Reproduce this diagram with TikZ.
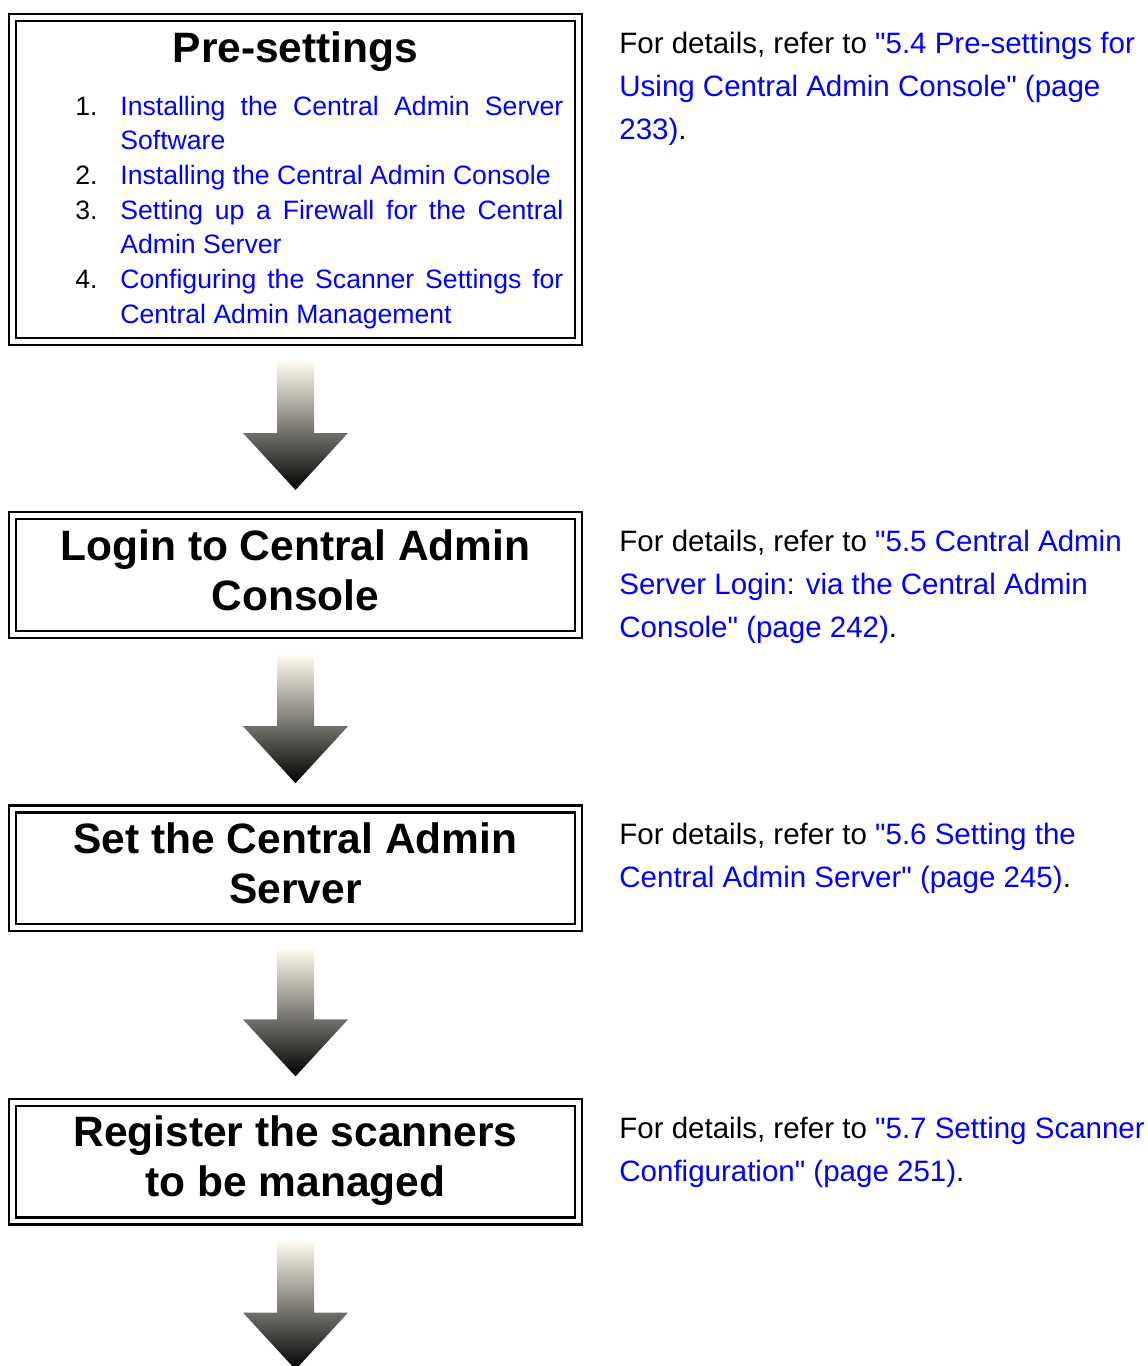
\documentclass[tikz,border=0pt]{standalone}
\usepackage{fontspec}
\setmainfont{Liberation Sans}
\usepackage{tikz}
\usetikzlibrary{positioning,calc}
\definecolor{linkblue}{RGB}{0,0,255}
\definecolor{arrowtop}{RGB}{255,251,238}
\tikzset{
  framebox/.style={draw=black,double=white,line width=1.1pt,double distance=2.4pt,
    outer sep=0pt,inner sep=0pt,minimum width=282.9pt,minimum height=59.4pt,align=center,
    font=\fontsize{21.25pt}{25pt}\selectfont\bfseries},
  titletext/.style={inner sep=0pt,anchor=base,font=\fontsize{21.25pt}{25pt}\selectfont\bfseries},
  notetext/.style={anchor=north west,inner sep=0pt,align=left,font=\fontsize{14.75pt}{21.5pt}\selectfont},
  steplist/.style={anchor=north west,inner sep=0pt,text width=244pt,align=justify,
    font=\fontsize{13.3pt}{17.33pt}\selectfont},
  flowarrow/.style={top color=arrowtop,bottom color=black,draw=none}
}
\newcommand{\lk}[1]{\textcolor{linkblue}{#1}}
\newcommand{\qt}{\textquotedbl}
\newcommand{\stepitem}[2]{\par\hangindent=22.5pt\hangafter=1\noindent\strut\makebox[22.5pt][l]{#1}\lk{#2}\par}

\begin{document}
\begin{tikzpicture}[x=0.5pt,y=0.5pt,node distance=87.2pt]
  \fill[white] (0,0) rectangle (1147,-1366);
  \path[use as bounding box] (0,0) rectangle (1147,-1366);

  %% Step boxes
  \node[framebox,minimum height=161.9pt] (b1) at (295.5,-179.5) {};
  \node[titletext] (t1) at ($(b1.north)+(0,-44.4)$) {Pre-settings};
  \node[steplist] (list1) at ($(b1.north west)+(62.4,-62.6)$) {%
    \tolerance=10000\hbadness=10000\parskip=0pt
    \stepitem{1.}{Installing the Central Admin Server\linebreak Software}
    \stepitem{2.}{Installing the Central Admin Console}
    \stepitem{3.}{Setting up a Firewall for the Central\linebreak Admin Server}
    \stepitem{4.}{Configuring the Scanner Settings for\linebreak Central Admin Management}};
  \node[framebox,below=of b1] (b2) {\strut Login to Central Admin\\Console\strut};
  \node[framebox,below=of b2] (b3) {\strut Set the Central Admin\\Server\strut};
  \node[framebox,below=of b3] (b4) {\strut Register the scanners\\to be managed\strut};

  %% Notes
  \node[notetext] (n1) at ($(b1.north east)+(40.6,-5.3)$)
    {\strut For details, refer to \lk{\qt5.4 Pre-settings for}\\\lk{Using Central Admin Console\qt\ (page}\\\lk{233)}.};
  \node[notetext] (n2) at ($(b2.north east)+(40.6,-5.3)$)
    {\strut For details, refer to \lk{\qt5.5 Central Admin}\\\lk{Server Login: via the Central Admin}\\\lk{Console\qt\ (page 242)}.};
  \node[notetext] (n3) at ($(b3.north east)+(40.6,-5.3)$)
    {\strut For details, refer to \lk{\qt5.6 Setting the}\\\lk{Central Admin Server\qt\ (page 245)}.};
  \node[notetext] (n4) at ($(b4.north east)+(40.6,-5.3)$)
    {\strut For details, refer to \lk{\qt5.7 Setting Scanner}\\\lk{Configuration\qt\ (page 251)}.};

  %% Block arrows
  \foreach \i in {1,...,4}
    \shade[flowarrow] ($(b\i.south)+(-18.5,-20.6)$) -- ++(0,-71) -- ++(-34,0)
      -- ++(52.5,-57) -- ++(52.5,57) -- ++(-34,0) -- ++(0,71) -- cycle;
\end{tikzpicture}
\end{document}
